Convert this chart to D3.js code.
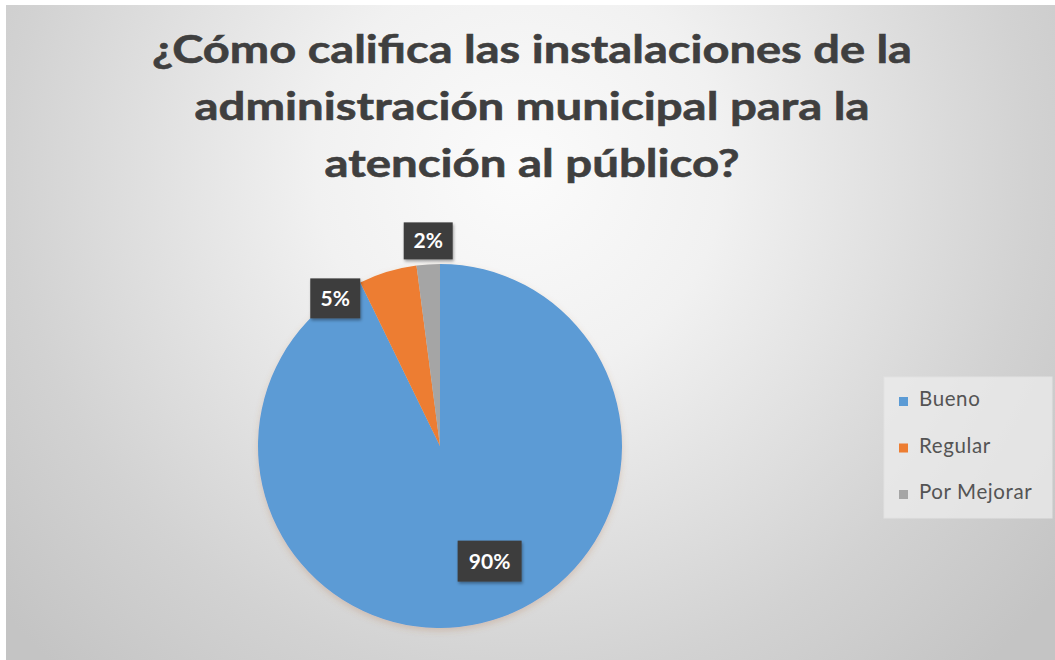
<!DOCTYPE html>
<html>
<head>
<meta charset="utf-8">
<script src="https://cdn.jsdelivr.net/npm/d3@7"></script>
<style>
  html, body { margin: 0; padding: 0; background: #ffffff; }
  svg { display: block; }
</style>
</head>
<body>
<svg id="chart" width="1055" height="660"></svg>
<script>
// Survey result: rating of the municipal offices for public attention
const titleLines = [
  "¿Cómo califica las instalaciones de la",
  "administración municipal para la",
  "atención al público?"
];
const categories = ["Bueno", "Regular", "Por Mejorar"];
const values = [90, 5, 2];           // percent, as labelled
const labels = ["90%", "5%", "2%"];
const colors = ["#5B9BD5", "#ED7D31", "#A5A5A5"];

const W = 1055, H = 660;
const svg = d3.select("#chart");
const defs = svg.append("defs");

// soft radial backdrop
const bg = defs.append("radialGradient")
  .attr("id", "bgGrad")
  .attr("gradientUnits", "userSpaceOnUse")
  .attr("cx", 520).attr("cy", 170).attr("r", 680);
bg.append("stop").attr("offset", 0).attr("stop-color", "#fbfbfb");
bg.append("stop").attr("offset", 0.3).attr("stop-color", "#f1f1f1");
bg.append("stop").attr("offset", 0.75).attr("stop-color", "#d2d2d2");
bg.append("stop").attr("offset", 1).attr("stop-color", "#c4c4c4");

const shadow = defs.append("filter").attr("id", "pieShadow")
  .attr("x", "-20%").attr("y", "-20%").attr("width", "140%").attr("height", "140%");
shadow.append("feDropShadow").attr("dx", 0).attr("dy", 3).attr("stdDeviation", 3)
  .attr("flood-color", "#b0703a").attr("flood-opacity", 0.25);

const boxShadow = defs.append("filter").attr("id", "boxShadow")
  .attr("x", "-30%").attr("y", "-30%").attr("width", "160%").attr("height", "160%");
boxShadow.append("feDropShadow").attr("dx", 1).attr("dy", 2).attr("stdDeviation", 1.5)
  .attr("flood-color", "#000").attr("flood-opacity", 0.35);

svg.append("rect").attr("x", 6).attr("y", 5)
  .attr("width", W - 6).attr("height", H - 5)
  .attr("fill", "url(#bgGrad)");

// title
const titleFont = "Lato, 'Open Sans', sans-serif";
const titleWidths = [760, 675, 415];
const titleG = svg.append("g");
titleG.selectAll("text").data(titleLines).join("text")
  .attr("x", 532)
  .attr("y", (d, i) => 63 + i * 57)
  .attr("text-anchor", "middle")
  .attr("font-family", titleFont)
  .attr("font-weight", 700)
  .attr("font-size", 39)
  .attr("fill", "#3f3f3f")
  .attr("stroke", "#3f3f3f")
  .attr("stroke-width", 0.6)
  .attr("textLength", (d, i) => titleWidths[i])
  .attr("lengthAdjust", "spacingAndGlyphs")
  .text(d => d);

// pie
const cx = 440, cy = 446, R = 182;
const data = categories.map((c, i) => ({ cat: c, value: values[i], label: labels[i], color: colors[i] }));
const pie = d3.pie().sort(null).value(d => d.value);
const arcs = pie(data);
const arc = d3.arc().innerRadius(0).outerRadius(R);

const pg = svg.append("g").attr("transform", `translate(${cx},${cy})`);
pg.append("g").attr("filter", "url(#pieShadow)")
  .selectAll("path").data(arcs).join("path")
  .attr("d", arc)
  .attr("fill", d => d.data.color)
  .attr("stroke", "none");

// data labels
const labelFont = "Lato, 'Open Sans', sans-serif";
const pointAt = (r, a) => [r * Math.sin(a), -r * Math.cos(a)];
function labelPos(d, i, w, h) {
  if (i === 0) {
    // inside the large slice
    const c = d3.arc().innerRadius(R * 0.55).outerRadius(R * 0.85).centroid(d);
    return [c[0] - w / 2 + 21, c[1] - h / 2 - 9];
  }
  if (i === 1) {
    // beside the slice's outer starting corner
    const p = pointAt(R, d.startAngle);
    return [p[0] - w, p[1] - 4];
  }
  // above the thin slice
  const m = (d.startAngle + d.endAngle) / 2;
  const p = pointAt(R, m);
  return [p[0] - w / 2, p[1] - h - 5];
}
const boxSizes = [[64, 41], [50, 40], [49, 37]];
const lg = pg.append("g");
arcs.forEach((d, i) => {
  const [w, h] = boxSizes[i];
  const [x, y] = labelPos(d, i, w, h);
  const g = lg.append("g").attr("transform", `translate(${x},${y})`);
  g.append("rect").attr("width", w).attr("height", h)
    .attr("fill", "#3d3d3d").attr("filter", "url(#boxShadow)");
  g.append("text")
    .attr("x", w / 2).attr("y", h / 2 + 7.5)
    .attr("text-anchor", "middle")
    .attr("font-family", labelFont)
    .attr("font-weight", 700)
    .attr("font-size", 21)
    .attr("fill", "#ffffff")
    .text(d.data.label);
});

// legend
const leg = svg.append("g").attr("transform", "translate(884,377)");
leg.append("rect").attr("width", 168).attr("height", 141)
  .attr("fill", "#eeeeee").attr("fill-opacity", 0.7)
  .attr("stroke", "#e2e2e2").attr("stroke-width", 1);
const items = leg.selectAll("g.item").data(data).join("g")
  .attr("class", "item")
  .attr("transform", (d, i) => `translate(0,${29 + i * 46.5})`);
items.append("rect").attr("x", 15).attr("y", -9).attr("width", 9).attr("height", 9)
  .attr("fill", d => d.color);
items.append("text")
  .attr("x", 35).attr("y", 0)
  .attr("font-family", "Lato, 'Open Sans', sans-serif")
  .attr("font-size", 20.5)
  .attr("letter-spacing", 0.6)
  .attr("fill", "#545454")
  .text(d => d.cat);
</script>
</body>
</html>
